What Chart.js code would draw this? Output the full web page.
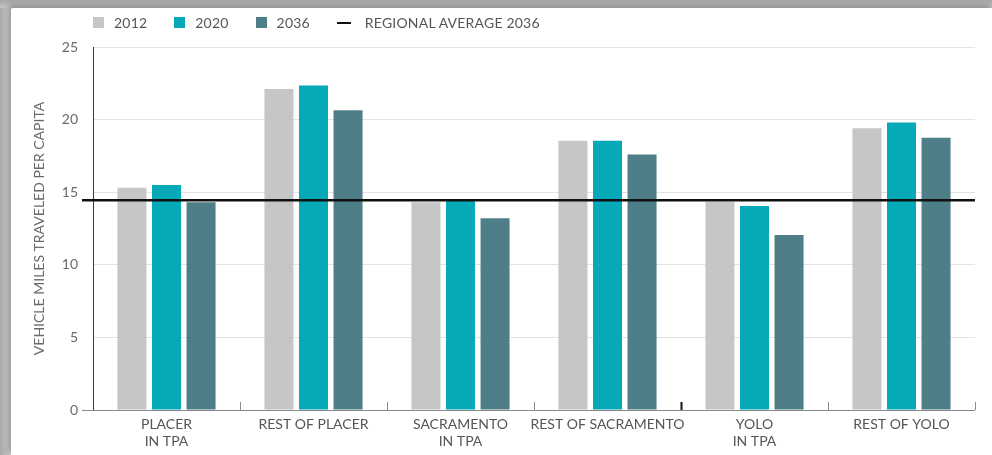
<!DOCTYPE html>
<html>
<head>
<meta charset="utf-8">
<script src="https://cdn.jsdelivr.net/npm/chart.js@4.4.1/dist/chart.umd.min.js"></script>
<style>
  html, body { margin: 0; padding: 0; width: 992px; height: 455px; overflow: hidden; }
  body { background: linear-gradient(90deg, #a9a9a9 0, #c9c9c9 11px, #fff 11px); font-family: Lato, "Open Sans", sans-serif; }
  .card {
    position: absolute; left: 11px; top: 8px; right: 0; bottom: 0;
    background: #fff;
    border-top-left-radius: 3px;
    box-shadow: -2px -3px 5px rgba(0,0,0,0.25);
  }
  .topbar { position: absolute; left: 0; top: 0; width: 992px; height: 8px;
    background: linear-gradient(180deg, #a6a6a6, #c4c4c4); }
  .chart-wrap { position: absolute; left: 0; top: 0; width: 992px; height: 455px; }
  .legend { position: absolute; left: 93px; top: 14px; display: flex; align-items: center;
    font-size: 14px; color: #555; letter-spacing: 0.2px; }
  .leg-item { display: inline-flex; align-items: center; margin-right: 27px; }
  .leg-swatch { display: inline-block; margin-right: 10px; }
</style>
</head>
<body>
<div class="topbar"></div>
<div class="card"></div>
<div class="chart-wrap"><canvas id="vmt" width="992" height="455"></canvas></div>
<div class="legend" id="legend"></div>

<script>
// Vehicle miles traveled per capita by sub-area
const categories = [
  ['PLACER', 'IN TPA'],
  'REST OF PLACER',
  ['SACRAMENTO', 'IN TPA'],
  'REST OF SACRAMENTO',
  ['YOLO', 'IN TPA'],
  'REST OF YOLO',
];
const vmt2012 = [15.3, 22.1, 14.3, 18.55, 14.35, 19.4];
const vmt2020 = [15.5, 22.35, 14.4, 18.55, 14.05, 19.8];
const vmt2036 = [14.3, 20.65, 13.2, 17.6, 12.05, 18.75];
const regionalAvg2036 = 14.45;
const yTicks = [0, 5, 10, 15, 20, 25];

const COLORS = {
  y2012: '#c5c6c8',
  y2020: '#05a9b7',
  y2036: '#4e7f88',
  avg:   '#111111',
};

function renderLegend(entries) {
  const el = document.getElementById('legend');
  el.innerHTML = entries.map(([color, kind, label]) => {
    const style = kind === 'line'
      ? `background:${color}; width:14px; height:2px; margin-right:14px;`
      : `background:${color}; width:11px; height:11px;`;
    return `<span class="leg-item"><span class="leg-swatch" style="${style}"></span>${label}</span>`;
  }).join('');
}

renderLegend([
  [COLORS.y2012, 'box', '2012'],
  [COLORS.y2020, 'box', '2020'],
  [COLORS.y2036, 'box', '2036'],
  [COLORS.avg, 'line', 'REGIONAL AVERAGE 2036'],
]);

// axis baseline, category dividers and the regional average rule
const overlay = {
  id: 'overlay',
  afterDatasetsDraw(chart) {
    const { ctx, chartArea: a, scales: { x, y } } = chart;
    ctx.save();
    // x baseline, extended left as the 0 tick
    ctx.strokeStyle = '#8a8a8a';
    ctx.lineWidth = 1;
    ctx.beginPath();
    ctx.moveTo(a.left - 11, y.getPixelForValue(0) + 0.5);
    ctx.lineTo(a.right, y.getPixelForValue(0) + 0.5);
    ctx.stroke();
    // dividers between categories
    const n = categories.length;
    for (let i = 0; i < n; i++) {
      const px = i < n - 1
        ? (x.getPixelForValue(i) + x.getPixelForValue(i + 1)) / 2
        : a.right;
      const dark = i === 3;
      ctx.strokeStyle = dark ? '#111' : '#8a8a8a';
      ctx.lineWidth = dark ? 2 : 1;
      ctx.beginPath();
      ctx.moveTo(Math.round(px) + 0.5, a.bottom - 8);
      ctx.lineTo(Math.round(px) + 0.5, a.bottom);
      ctx.stroke();
    }
    // regional average
    const ay = y.getPixelForValue(regionalAvg2036);
    ctx.strokeStyle = COLORS.avg;
    ctx.lineWidth = 2.5;
    ctx.beginPath();
    ctx.moveTo(a.left - 11, ay);
    ctx.lineTo(a.right, ay);
    ctx.stroke();
    ctx.restore();
  },
};

const barOpts = { barPercentage: 0.84, categoryPercentage: 0.705, borderWidth: 0 };

new Chart(document.getElementById('vmt'), {
  type: 'bar',
  data: {
    labels: categories,
    datasets: [
      { label: '2012', data: vmt2012, backgroundColor: COLORS.y2012, ...barOpts },
      { label: '2020', data: vmt2020, backgroundColor: COLORS.y2020, ...barOpts },
      { label: '2036', data: vmt2036, backgroundColor: COLORS.y2036, ...barOpts },
    ],
  },
  options: {
    responsive: false,
    animation: false,
    layout: { padding: { top: 47, right: 17, left: 0, bottom: 0 } },
    plugins: { legend: { display: false }, tooltip: { enabled: false } },
    scales: {
      x: {
        grid: { display: false, drawTicks: false },
        border: { display: false },
        ticks: {
          color: '#555',
          padding: 6,
          maxRotation: 0,
          autoSkip: false,
          font: { family: 'Lato', size: 14, lineHeight: 1.2 },
        },
        afterFit: s => { s.height = 45; },
      },
      y: {
        min: 0,
        max: 25,
        afterBuildTicks: s => { s.ticks = yTicks.map(v => ({ value: v })); },
        grid: { color: '#e2e2e2', drawTicks: false },
        border: { color: '#3a3a3a', width: 1 },
        ticks: {
          color: '#6a6a6a',
          padding: 15,
          font: { family: 'Lato', size: 14 },
        },
        title: {
          display: true,
          text: 'VEHICLE MILES TRAVELED PER CAPITA',
          color: '#6a6a6a',
          font: { family: 'Lato', size: 14 },
          padding: { top: 31, bottom: 0 },
        },
        afterFit: s => { s.width = 93; },
      },
    },
  },
  plugins: [overlay],
});
</script>
</body>
</html>
